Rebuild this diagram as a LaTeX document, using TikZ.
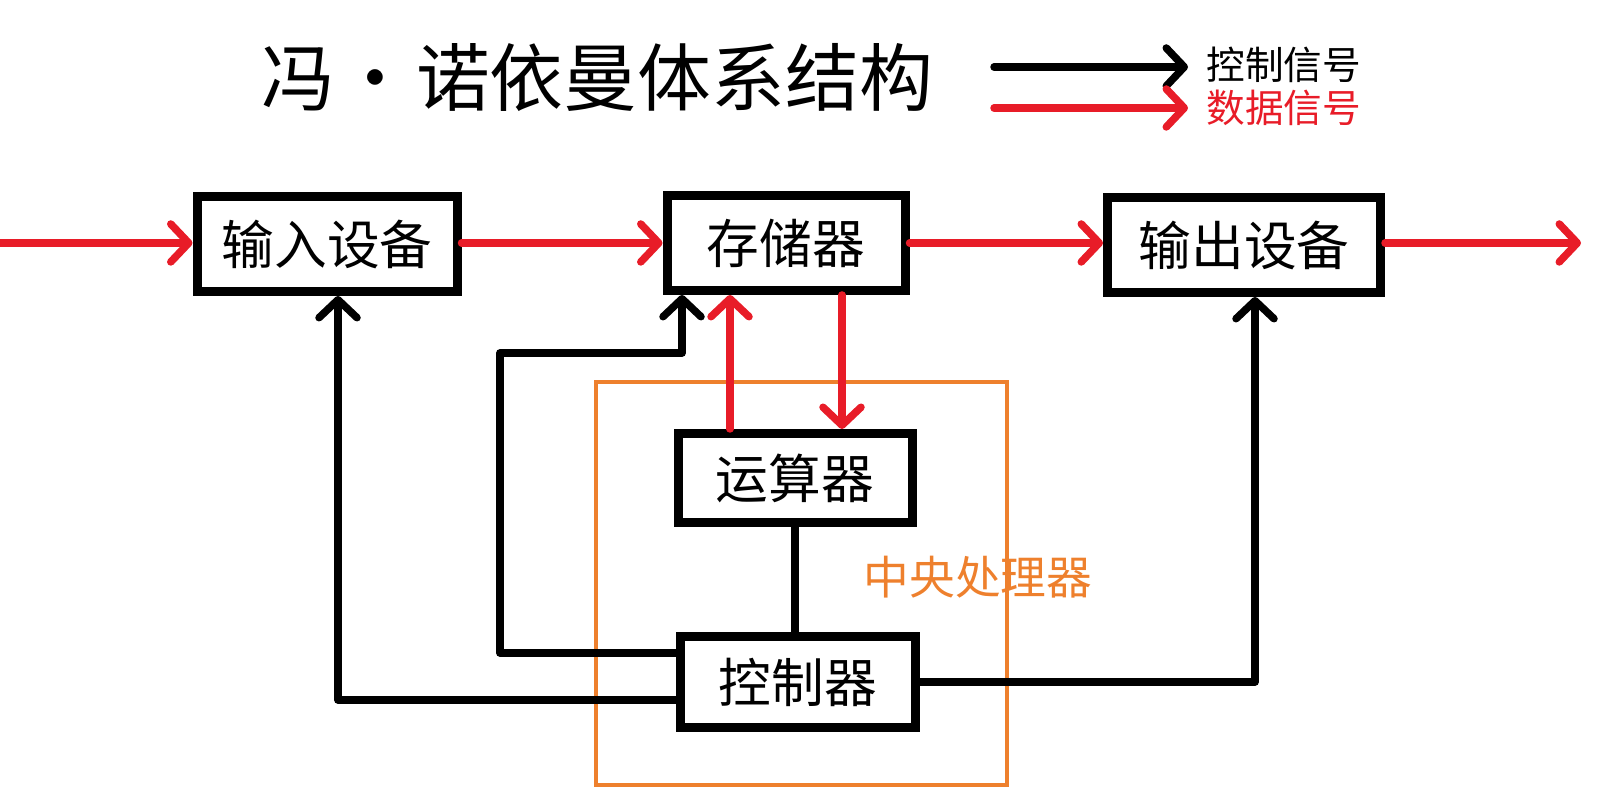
\documentclass[tikz,border=0pt]{standalone}
\usepackage{fontspec}
\setmainfont{Noto Sans CJK SC}
\usepackage{tikz}
\usetikzlibrary{positioning, arrows.meta, calc}
\definecolor{BitRed}{RGB}{232,28,40}
\definecolor{BitOrange}{RGB}{238,128,45}
\definecolor{BitBlack}{RGB}{0,0,0}

\begin{document}
\begin{tikzpicture}[
      unit/.style={rectangle, draw=BitBlack, line width=0.9mm, fill=white,
                   minimum height=0.95cm, font=\fontsize{15}{18}\selectfont},
      data/.style={draw=BitRed, line width=0.75mm, line cap=round,
                   -{Straight Barb[length=1.8mm, width=3.8mm, round]}},
      ctrl/.style={draw=BitBlack, line width=0.75mm, line cap=round, line join=round,
                   -{Straight Barb[length=1.8mm, width=3.8mm, round]}},
      legend/.style={font=\fontsize{11}{13}\selectfont, anchor=west}
    ]
    \useasboundingbox (0,0) rectangle (16.2,8.01);

    % Title and legend
    \node (title) at (5.97, 7.23) {\fontsize{21}{25}\selectfont 冯\hspace{0.05em}·\hspace{0.05em}诺依曼体系结构};
    \coordinate (ctrlA) at (9.94, 7.34);
    \coordinate (ctrlB) at (11.88, 7.34);
    \coordinate (dataA) at (9.94, 6.93);
    \coordinate (dataB) at (11.88, 6.93);
    \draw[ctrl] (ctrlA) -- (ctrlB);
    \draw[data] (dataA) -- (dataB);
    \node[legend, text=BitBlack] (ctrllbl) at (11.94, 7.36) {控制信号};
    \node[legend, text=BitRed] (datalbl) at (11.94, 6.93) {数据信号};

    % Central processing unit frame
    \draw[BitOrange, line width=0.45mm] (5.96, 0.16) rectangle (10.07, 4.19);
    \node[text=BitOrange, font=\fontsize{13}{16}\selectfont] (cpulbl) at (9.78, 2.24) {中央处理器};

    % Units
    \node[unit, minimum width=2.60cm] (inp) at (3.27, 5.57) {输入设备};
    \node[unit, minimum width=2.38cm] (mem) at (7.86, 5.58) {存储器};
    \node[unit, minimum width=2.73cm] (out) at (12.44, 5.56) {输出设备};
    \node[unit, minimum width=2.34cm, minimum height=0.89cm] (alu) at (7.95, 3.23) {运算器};
    \node[unit, minimum width=2.35cm, minimum height=0.91cm] (ctl) at (7.98, 1.19) {控制器};

    % Data flow
    \coordinate (src) at (0, 5.58);
    \coordinate (sink) at (15.81, 5.58);
    \draw[data] (src) -- (src -| inp.west);
    \draw[data] (src -| inp.east) -- (src -| mem.west);
    \draw[data] (src -| mem.east) -- (src -| out.west);
    \draw[data] (src -| out.east) -- (sink);
    \draw[data] ([xshift=-6.5mm]alu.north) -- ([xshift=-6.5mm]alu.north |- mem.south);
    \draw[data] ([xshift=5.6mm]mem.south) -- ([xshift=5.6mm]mem.south |- alu.north);

    % Control flow
    \draw[BitBlack, line width=0.75mm] (alu.south) -- (alu.south |- ctl.north);
    \coordinate (bend) at (5.00, 4.48);
    \draw[ctrl] ([yshift=2.9mm]ctl.west) -| (bend) -| ([xshift=-10.4mm]mem.south);
    \draw[ctrl] ([yshift=-1.8mm]ctl.west) -| ([xshift=1.1mm]inp.south);
    \draw[ctrl] (ctl.east) -| ([xshift=1.1mm]out.south);
  \end{tikzpicture}
\end{document}
